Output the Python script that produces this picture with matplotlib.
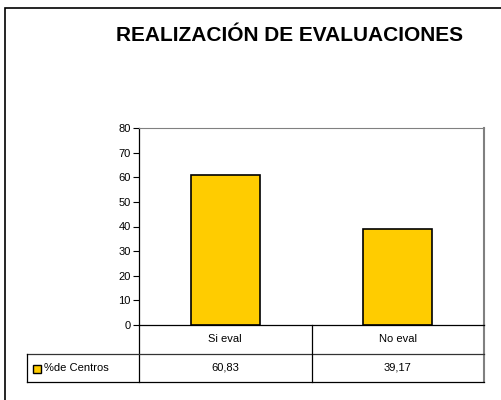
import matplotlib.pyplot as plt
from matplotlib.patches import Rectangle
from matplotlib.transforms import blended_transform_factory

plt.rcParams['font.family'] = ['Liberation Sans', 'DejaVu Sans']

# Datos
categorias = ["Si eval", "No eval"]
porcentajes = [60.83, 39.17]
etiquetas_valores = ["60,83", "39,17"]
serie = "%de Centros"
titulo = "REALIZACIÓN DE EVALUACIONES"
amarillo = '#FFCC00'

fig = plt.figure(figsize=(5.01, 4), dpi=100)

# Marco exterior del gráfico
fig.patches.append(Rectangle((5 / 501, -0.05), 1.1, 1 - 8 / 400 + 0.05,
                             transform=fig.transFigure, fill=False,
                             edgecolor='black', linewidth=1.2))

ax = fig.add_axes([139 / 501, 75 / 400, 345 / 501, 197 / 400])
x = list(range(len(categorias)))
ax.bar(x, porcentajes, width=0.4, color=amarillo, edgecolor='black', linewidth=1.2)
ax.set_xlim(-0.5, len(categorias) - 0.5)
ax.set_ylim(0, 80)
ax.set_yticks(range(0, 81, 10))
ax.set_xticks([])
ax.tick_params(axis='y', direction='out', length=4, width=0.8, labelsize=8, pad=2)
ax.spines['top'].set_color('#808080')
ax.spines['right'].set_color('#808080')
ax.spines['right'].set_linewidth(1.5)
ax.spines['left'].set_linewidth(0.9)
ax.spines['bottom'].set_linewidth(0.9)

fig.text(290 / 501, 1 - 35.5 / 400, titulo, ha='center', va='center',
         fontsize=15, fontweight='bold')

# Tabla de datos bajo el eje
tr = blended_transform_factory(ax.transData, ax.transAxes)
h = 197
y1 = -29 / h
y2 = -57 / h
xl = (27 - 139) / 345
kw = dict(transform=ax.transAxes, clip_on=False, linewidth=0.9)
ax.plot([0, 0], [0, y2], color='black', **kw)
ax.plot([1, 1], [0, y2], color='#808080', **dict(kw, linewidth=1.5))
ax.plot([xl, 1], [y1, y1], color='#333333', **kw)
ax.plot([xl, 1], [y2, y2], color='black', **kw)
ax.plot([xl, xl], [y1, y2], color='black', **kw)
for i in range(len(categorias) - 1):
    ax.plot([i + 0.5, i + 0.5], [0, y2], color='black', transform=tr,
            clip_on=False, linewidth=0.9)

for i, cat in enumerate(categorias):
    ax.text(i, y1 / 2, cat, transform=tr, ha='center', va='center', fontsize=8)
    ax.text(i, (y1 + y2) / 2, etiquetas_valores[i], transform=tr,
            ha='center', va='center', fontsize=8)

# Leyenda en la tabla
ax.add_patch(Rectangle((xl + 6 / 345, (y1 + y2) / 2 - 4.5 / h), 8 / 345, 8 / h,
                       transform=ax.transAxes, clip_on=False,
                       facecolor=amarillo, edgecolor='black', linewidth=1.0))
ax.text(xl + 17 / 345, (y1 + y2) / 2, serie, transform=ax.transAxes,
        ha='left', va='center', fontsize=8)

fig.savefig('out.png', dpi=100, facecolor='white')
